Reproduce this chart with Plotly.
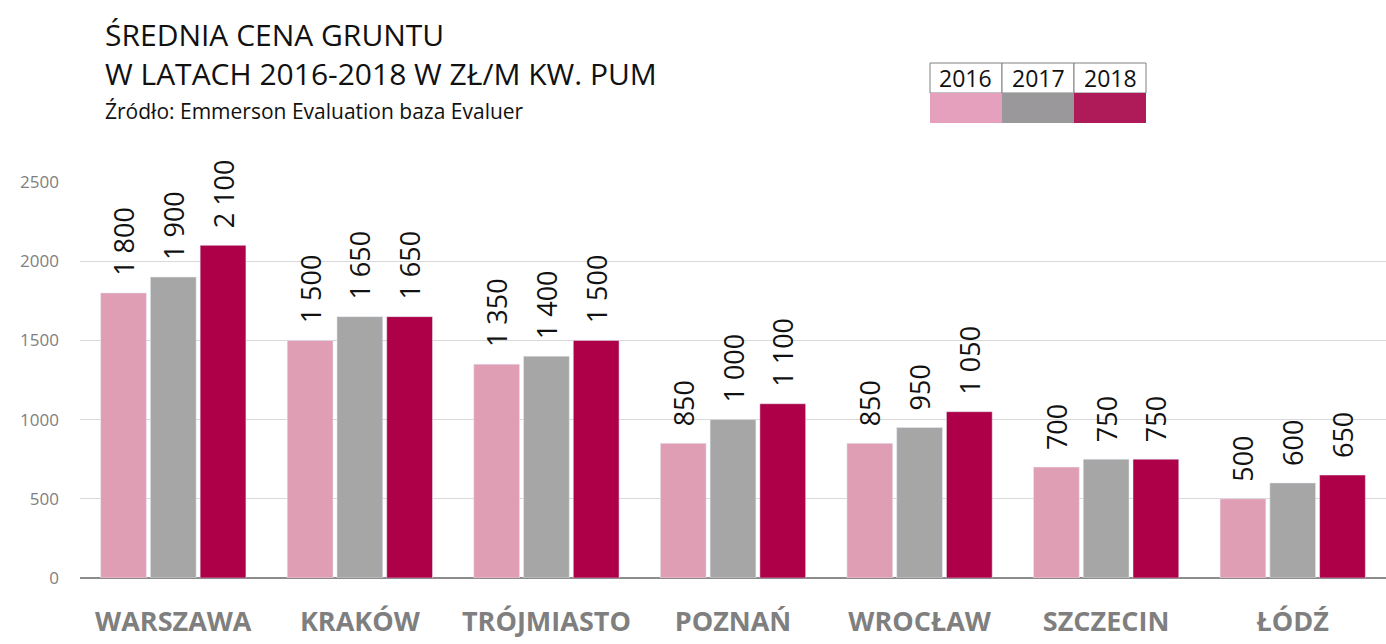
import plotly.graph_objects as go

categories = ["WARSZAWA", "KRAKÓW", "TRÓJMIASTO", "POZNAŃ", "WROCŁAW", "SZCZECIN", "ŁÓDŹ"]
years = ["2016", "2017", "2018"]
v2016 = [1800, 1500, 1350, 850, 850, 700, 500]
v2017 = [1900, 1650, 1400, 1000, 950, 750, 600]
v2018 = [2100, 1650, 1500, 1100, 1050, 750, 650]
colors = ["#E09EB5", "#A6A6A6", "#AD0048"]
legend_colors = ["#E4A0BD", "#9B989B", "#AE1B58"]

def fmt(v):
    # thousands separated by a space; leading no-break spaces keep the label clear of the bar
    return "\u00a0\u00a0" + f"{v:,}".replace(",", " ")

fig = go.Figure()
for name, vals, col in zip(years, [v2016, v2017, v2018], colors):
    fig.add_trace(go.Bar(
        x=categories, y=vals, name=name, marker_color=col,
        text=[fmt(v) for v in vals], textposition="outside", textangle=-90,
        constraintext="none",
        textfont=dict(family="Open Sans", size=27, color="#111"),
        cliponaxis=False, showlegend=False,
    ))

fig.update_layout(
    width=1386, height=644,
    paper_bgcolor="white", plot_bgcolor="white",
    margin=dict(l=80, r=0, t=182, b=66),
    barmode="group", bargap=0.2, bargroupgap=0.08,
    font=dict(family="Open Sans"),
    xaxis=dict(tickfont=dict(family="Open Sans", size=27, color="#7F7F7F", weight="bold"),
               showgrid=False, ticks="", showline=False, ticklabelstandoff=25),
    yaxis=dict(range=[0, 2500], tickvals=[0, 500, 1000, 1500, 2000, 2500],
               tickfont=dict(family="Open Sans", size=17, color="#808080"),
               showgrid=True, gridcolor="#D9D9D9", gridwidth=1,
               zeroline=True, zerolinecolor="#8C8C8C", zerolinewidth=2,
               ticks="", ticklabelstandoff=20),
)

def px_to_paper_x(px):
    return (px - 80) / 1306

def px_to_paper_y(py):
    return (578 - py) / 396

# Title (two lines) and source
fig.add_annotation(xref="paper", yref="paper", x=px_to_paper_x(103), y=px_to_paper_y(54),
                   xanchor="left", yanchor="middle", align="left",
                   text="ŚREDNIA CENA GRUNTU<br>W LATACH 2016-2018 W ZŁ/M KW. PUM", showarrow=False,
                   font=dict(family="Open Sans", size=30, color="#111"))
fig.add_annotation(xref="paper", yref="paper", x=px_to_paper_x(103), y=px_to_paper_y(111),
                   xanchor="left", yanchor="middle",
                   text="Źródło: Emmerson Evaluation baza Evaluer", showarrow=False,
                   font=dict(family="Open Sans", size=21, color="#111"))

# Legend table
x0 = 930
cw = 72
ytop, ymid, ybot = 63, 93, 123
for i, (yr, col) in enumerate(zip(years, legend_colors)):
    xa, xb = x0 + i * cw, x0 + (i + 1) * cw
    fig.add_shape(type="rect", xref="paper", yref="paper",
                  x0=px_to_paper_x(xa), x1=px_to_paper_x(xb),
                  y0=px_to_paper_y(ymid), y1=px_to_paper_y(ytop),
                  line=dict(color="#808080", width=1), fillcolor="white")
    fig.add_shape(type="rect", xref="paper", yref="paper",
                  x0=px_to_paper_x(xa), x1=px_to_paper_x(xb),
                  y0=px_to_paper_y(ybot), y1=px_to_paper_y(ymid),
                  line=dict(width=0), fillcolor=col)
    fig.add_annotation(xref="paper", yref="paper",
                       x=px_to_paper_x((xa + xb) / 2), y=px_to_paper_y((ytop + ymid) / 2),
                       text=yr, showarrow=False, xanchor="center", yanchor="middle",
                       font=dict(family="Open Sans", size=23, color="#111"))

fig.write_html("out.html")
